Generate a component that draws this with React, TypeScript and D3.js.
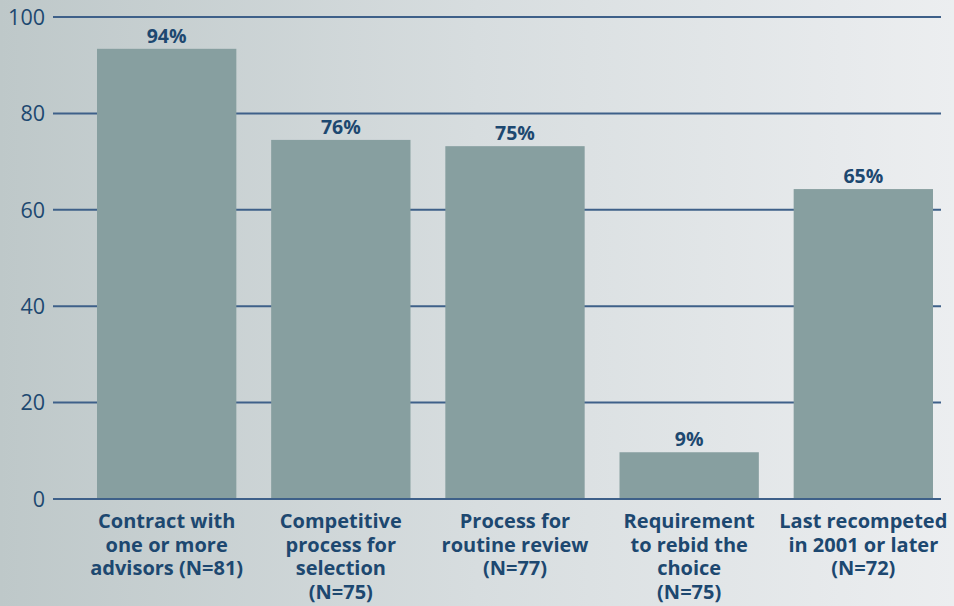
import React from "react";
import * as d3 from "d3";

const categories: string[][] = [
  ["Contract with", "one or more", "advisors (N=81)"],
  ["Competitive", "process for", "selection", "(N=75)"],
  ["Process for", "routine review", "(N=77)"],
  ["Requirement", "to rebid the", "choice", "(N=75)"],
  ["Last recompeted", "in 2001 or later", "(N=72)"],
];
const values: number[] = [93.4, 74.5, 73.2, 9.7, 64.3];
const valueLabels: string[] = ["94%", "76%", "75%", "9%", "65%"];
const yTicks: number[] = [0, 20, 40, 60, 80, 100];

const W = 954;
const H = 606;
const TEXT = "#1d4870";
const GRID = "#3e6089";
const BAR = "#879fa0";
const FONT = "'Open Sans', Lato, sans-serif";

export default function App() {
  const y = d3.scaleLinear().domain([0, 100]).range([499, 17]);
  const x = d3
    .scaleBand<number>()
    .domain(d3.range(values.length))
    .range([97, 933])
    .paddingInner(0.2)
    .paddingOuter(0);
  const gridX0 = 53;
  const gridX1 = 941;

  return (
    <svg
      width={W}
      height={H}
      style={{ position: "fixed", left: 0, top: 0, display: "block" }}
    >
      <defs>
        <linearGradient id="bg" x1="0" y1="0" x2="1" y2="0">
          <stop offset="0" stopColor="#bec8c9" />
          <stop offset="0.5" stopColor="#d7dddf" />
          <stop offset="1" stopColor="#eceef0" />
        </linearGradient>
      </defs>
      <rect x={0} y={0} width={W} height={H} fill="url(#bg)" />
      {yTicks.map((t) => (
        <g key={t}>
          <line
            x1={gridX0}
            x2={gridX1}
            y1={y(t)}
            y2={y(t)}
            stroke={GRID}
            strokeWidth={2}
          />
          <text
            x={45}
            y={y(t)}
            dy="0.36em"
            textAnchor="end"
            fontFamily={FONT}
            fontSize={21.5}
            fill={TEXT}
          >
            {t}
          </text>
        </g>
      ))}
      {values.map((v, i) => (
        <g key={i}>
          <rect
            x={x(i)}
            y={y(v)}
            width={x.bandwidth()}
            height={y(0) - y(v) - 1}
            fill={BAR}
          />
          <text
            x={(x(i) as number) + x.bandwidth() / 2}
            y={y(v) - 6}
            textAnchor="middle"
            fontFamily={FONT}
            fontWeight={700}
            fontSize={19.5}
            fill={TEXT}
          >
            {valueLabels[i]}
          </text>
          <text
            x={(x(i) as number) + x.bandwidth() / 2}
            y={528}
            textAnchor="middle"
            fontFamily={FONT}
            fontWeight={700}
            fontSize={20}
            fill={TEXT}
          >
            {categories[i].map((line, j) => (
              <tspan
                key={j}
                x={(x(i) as number) + x.bandwidth() / 2}
                dy={j === 0 ? 0 : 23.5}
              >
                {line}
              </tspan>
            ))}
          </text>
        </g>
      ))}
    </svg>
  );
}
